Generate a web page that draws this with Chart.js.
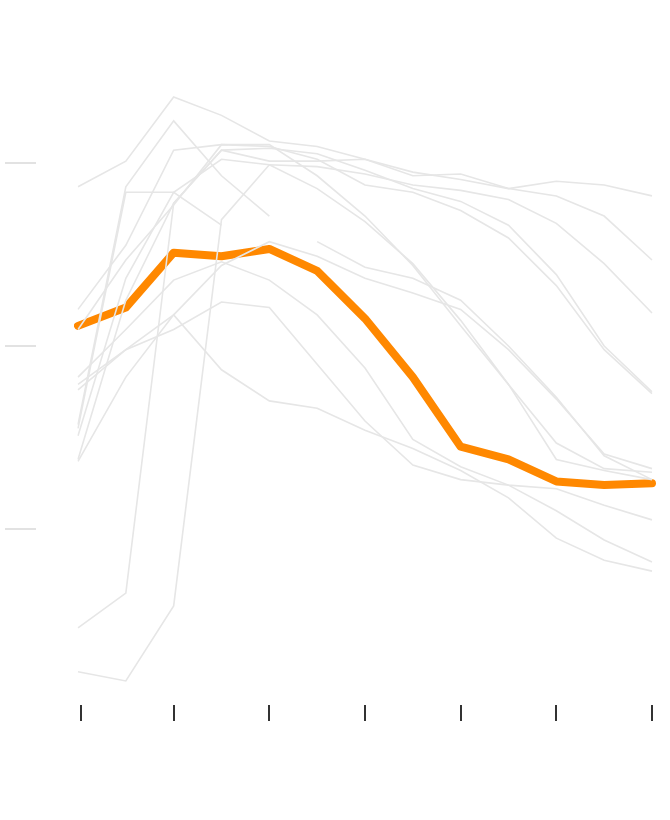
<!DOCTYPE html>
<html><head><meta charset="utf-8">
<script src="https://cdn.jsdelivr.net/npm/chart.js@4"></script>
<style>html,body{margin:0;padding:0;background:#fff;}</style>
</head><body>
<canvas id="c" width="670" height="820"></canvas>
<script>
const categories = ['1','2','3','4','5','6','7','8','9','10','11','12','13'];
const yTicks = [0, 1, 2];
const highlight = [1.11,1.21,1.51,1.49,1.53,1.41,1.15,0.83,0.45,0.38,0.26,0.24,0.25];
const others = [
 [1.87,2.01,2.36,2.26,2.12,2.09,2.02,1.95,1.91,1.86,1.90,1.88,1.82],
 [0.57,1.87,2.23,1.93,1.71,null,null,null,null,null,null,null,null],
 [1.20,1.55,2.07,2.10,2.09,2.02,1.88,1.84,1.74,1.59,1.33,0.98,0.74],
 [0.38,1.25,1.78,2.07,2.01,2.01,2.02,1.93,1.94,1.86,1.82,1.71,1.47],
 [0.55,1.84,1.84,1.66,null,null,null,null,null,null,null,null,null],
 [-0.78,-0.83,-0.42,1.69,1.99,1.98,1.94,1.88,1.85,1.80,1.67,1.45,1.18],
 [-0.54,-0.35,1.78,2.07,2.08,2.05,1.96,1.86,1.79,1.66,1.39,1.00,0.75],
 [0.83,1.09,1.36,1.46,1.36,1.17,0.88,0.49,0.34,0.24,0.10,-0.06,-0.18],
 [0.79,0.98,1.17,0.87,0.70,0.66,0.54,0.44,0.32,0.17,-0.05,-0.17,-0.23],
 [0.76,0.98,1.09,1.24,1.21,0.90,0.59,0.35,0.27,0.24,0.22,0.13,0.05],
 [1.09,1.47,1.77,2.10,2.10,1.93,1.71,1.44,1.11,0.79,0.38,0.32,0.27],
 [0.37,0.83,1.17,1.44,1.57,1.49,1.37,1.29,1.20,0.98,0.71,0.41,0.33],
 [null,null,null,null,null,1.57,1.43,1.37,1.25,1.00,0.72,0.40,0.27],
 [0.51,1.37,1.84,2.02,1.99,1.86,1.68,1.45,1.14,0.79,0.47,0.33,0.31]
];
const datasets = others.map(d => ({data:d, borderColor:'#e6e6e6', borderWidth:1.6, pointRadius:0, tension:0, spanGaps:false}));
datasets.push({data:highlight, borderColor:'#ff8800', borderWidth:8, pointRadius:0, tension:0, borderCapStyle:'round', borderJoinStyle:'round'});
const marks = {id:'marks', afterDraw(chart){
  const ctx=chart.ctx, xs=chart.scales.x, ys=chart.scales.y;
  ctx.save();
  ctx.strokeStyle='#333'; ctx.lineWidth=2;
  categories.forEach((c,i)=>{ if(i%2) return; const x=Math.round(xs.getPixelForValue(i)) + (i===0?3:0);
    ctx.beginPath(); ctx.moveTo(x,705); ctx.lineTo(x,721); ctx.stroke(); });
  ctx.strokeStyle='#d8d8d8'; ctx.lineWidth=1.5;
  yTicks.forEach(v=>{ const y=Math.round(ys.getPixelForValue(v));
    ctx.beginPath(); ctx.moveTo(5,y); ctx.lineTo(36,y); ctx.stroke(); });
  ctx.restore();
}};
new Chart(document.getElementById('c'), {
  type:'line',
  data:{labels:categories, datasets},
  options:{responsive:false, animation:false,
    layout:{padding:{left:78,right:18,top:20,bottom:120}},
    plugins:{legend:{display:false}, tooltip:{enabled:false}},
    scales:{
      x:{display:false, offset:false},
      y:{display:false, min:-0.934, max:2.781}
    }},
  plugins:[marks]
});
</script>
</body></html>
